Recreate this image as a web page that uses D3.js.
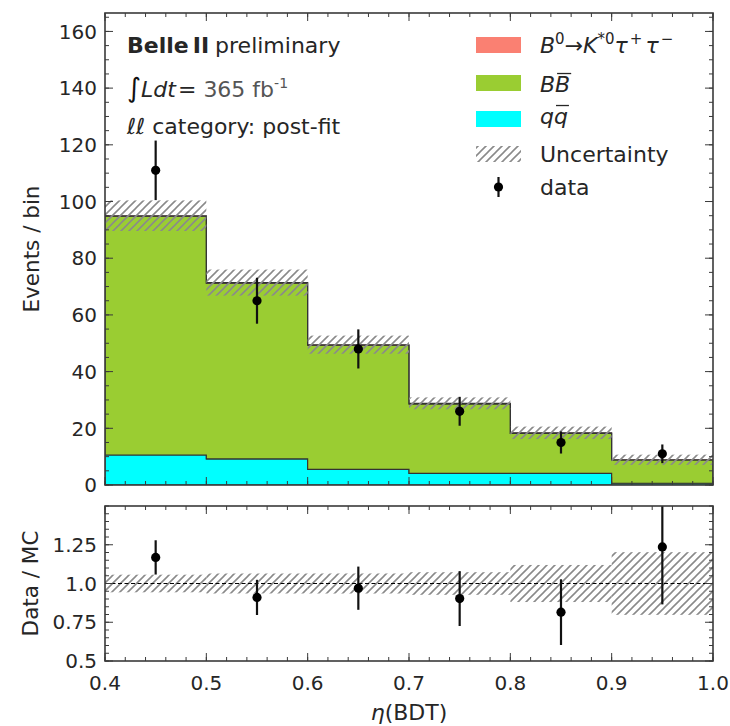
<!DOCTYPE html>
<html>
<head>
<meta charset="utf-8">
<script src="https://cdn.jsdelivr.net/npm/d3@7"></script>
<style>
  body { margin: 0; background: #fff; }
  text { font-family: "DejaVu Sans", sans-serif; white-space: pre; }
</style>
</head>
<body>
<svg id="chart" width="730" height="726"></svg>
<script>
// ---- data ----
const binEdges = [0.4, 0.5, 0.6, 0.7, 0.8, 0.9, 1.0];
const qqbarYield = [10.6, 9.2, 5.5, 4.1, 4.1, 0.6];
const bbbarYield = [84.2, 62.0, 43.8, 24.5, 14.1, 8.2];
const signalYield = [0.2, 0.2, 0.2, 0.2, 0.2, 0.1];
const mcUncertainty = [5.4, 4.6, 3.2, 2.1, 2.2, 1.8];
const dataCounts = [111, 65, 48, 26, 15, 11];
const dataErrors = [10.5, 8.1, 6.9, 5.1, 3.9, 3.3];

// ---- tick labels ----
const xMajorTicks = [0.4, 0.5, 0.6, 0.7, 0.8, 0.9, 1.0];
const xTickLabels = ["0.4", "0.5", "0.6", "0.7", "0.8", "0.9", "1.0"];
const yMainTicks = [0, 20, 40, 60, 80, 100, 120, 140, 160];
const yMainTickLabels = ["0", "20", "40", "60", "80", "100", "120", "140", "160"];
const yRatioTicks = [0.5, 0.75, 1.0, 1.25];
const yRatioTickLabels = ["0.5", "0.75", "1.0", "1.25"];

const colors = { signal: "#fa8072", bbbar: "#9acd32", qqbar: "#00ffff" };
const ink = "#262626";
const frameColor = "#3a3a3a";

const svg = d3.select("#chart");

const left = 105, right = 713;
const mainTop = 13, mainBottom = 485;
const ratioTop = 506, ratioBottom = 661;

const x = d3.scaleLinear().domain([0.4, 1.0]).range([left, right]);
const y = d3.scaleLinear().domain([0, 166.5]).range([mainBottom, mainTop]);
const yR = d3.scaleLinear().domain([0.5, 1.5]).range([ratioBottom, ratioTop]);

// hatch pattern for the MC uncertainty
const defs = svg.append("defs");
const pat = defs.append("pattern").attr("id", "hatch")
  .attr("patternUnits", "userSpaceOnUse").attr("width", 8).attr("height", 8);
pat.append("path").attr("d", "M-2,2 L2,-2 M0,8 L8,0 M6,10 L10,6")
  .attr("stroke", "#8a8a8a").attr("stroke-width", 1.6).attr("fill", "none");

defs.append("clipPath").attr("id", "clipMain").append("rect")
  .attr("x", left).attr("y", mainTop).attr("width", right - left).attr("height", mainBottom - mainTop);
defs.append("clipPath").attr("id", "clipRatio").append("rect")
  .attr("x", left).attr("y", ratioTop).attr("width", right - left).attr("height", ratioBottom - ratioTop);

// ---- stacked histogram ----
const nBins = dataCounts.length;
const bins = d3.range(nBins).map(i => ({
  x0: binEdges[i], x1: binEdges[i + 1],
  qq: qqbarYield[i], bb: bbbarYield[i], sig: signalYield[i],
  unc: mcUncertainty[i], data: dataCounts[i], err: dataErrors[i]
}));
bins.forEach(b => { b.total = b.qq + b.bb + b.sig; });

const layers = [
  { key: "qq", color: colors.qqbar, lo: b => 0, hi: b => b.qq },
  { key: "bb", color: colors.bbbar, lo: b => b.qq, hi: b => b.qq + b.bb },
  { key: "sig", color: colors.signal, lo: b => b.qq + b.bb, hi: b => b.total }
];

function stepPoints(acc) {
  const pts = bins.map(b => ({ x: b.x0, lo: acc.lo(b), hi: acc.hi(b) }));
  const last = bins[nBins - 1];
  pts.push({ x: last.x1, lo: acc.lo(last), hi: acc.hi(last) });
  return pts;
}

const mainG = svg.append("g").attr("clip-path", "url(#clipMain)");
const area = d3.area().curve(d3.curveStepAfter)
  .x(d => x(d.x)).y0(d => y(d.lo)).y1(d => y(d.hi));
layers.forEach(l => {
  mainG.append("path").datum(stepPoints(l))
    .attr("d", area).attr("fill", l.color)
    .attr("stroke", "#333").attr("stroke-width", 1.1).attr("stroke-linejoin", "miter");
});

// uncertainty band on the total
mainG.selectAll("rect.unc").data(bins).join("rect").attr("class", "unc")
  .attr("x", d => x(d.x0)).attr("width", d => x(d.x1) - x(d.x0))
  .attr("y", d => y(d.total + d.unc)).attr("height", d => y(d.total - d.unc) - y(d.total + d.unc))
  .attr("fill", "url(#hatch)");

// data points
const dataG = mainG.append("g");
dataG.selectAll("line").data(bins).join("line")
  .attr("x1", d => x((d.x0 + d.x1) / 2)).attr("x2", d => x((d.x0 + d.x1) / 2))
  .attr("y1", d => y(d.data - d.err)).attr("y2", d => y(d.data + d.err))
  .attr("stroke", "#111").attr("stroke-width", 2.2);
dataG.selectAll("circle").data(bins).join("circle")
  .attr("cx", d => x((d.x0 + d.x1) / 2)).attr("cy", d => y(d.data)).attr("r", 4.6).attr("fill", "#000");

// ---- ratio panel ----
const ratioG = svg.append("g").attr("clip-path", "url(#clipRatio)");
ratioG.selectAll("rect.runc").data(bins).join("rect").attr("class", "runc")
  .attr("x", d => x(d.x0)).attr("width", d => x(d.x1) - x(d.x0))
  .attr("y", d => yR(1 + d.unc / d.total)).attr("height", d => yR(1 - d.unc / d.total) - yR(1 + d.unc / d.total))
  .attr("fill", "url(#hatch)");
ratioG.append("line").attr("x1", left).attr("x2", right).attr("y1", yR(1)).attr("y2", yR(1))
  .attr("stroke", "#000").attr("stroke-width", 1).attr("stroke-dasharray", "4,2.5");
ratioG.selectAll("line.rerr").data(bins).join("line").attr("class", "rerr")
  .attr("x1", d => x((d.x0 + d.x1) / 2)).attr("x2", d => x((d.x0 + d.x1) / 2))
  .attr("y1", d => yR((d.data - d.err) / d.total)).attr("y2", d => yR((d.data + d.err) / d.total))
  .attr("stroke", "#111").attr("stroke-width", 2.2);
ratioG.selectAll("circle").data(bins).join("circle")
  .attr("cx", d => x((d.x0 + d.x1) / 2)).attr("cy", d => yR(d.data / d.total)).attr("r", 4.6).attr("fill", "#000");

// ---- frames and ticks ----
function ticks(g, vals, pos, orient, len) {
  g.selectAll(null).data(vals).join("line")
    .attr("x1", d => orient === "h" ? pos.at : pos.s(d))
    .attr("x2", d => orient === "h" ? pos.at + len : pos.s(d))
    .attr("y1", d => orient === "v" ? pos.at : pos.s(d))
    .attr("y2", d => orient === "v" ? pos.at + len : pos.s(d))
    .attr("stroke", frameColor).attr("stroke-width", 1);
}
function panel(ys, top, bottom, majorY, minorY) {
  const g = svg.append("g");
  const xMinor = x.ticks(30);
  ticks(g, xMinor, { s: x, at: bottom }, "v", -4);
  ticks(g, xMajorTicks, { s: x, at: bottom }, "v", -8);
  ticks(g, xMinor, { s: x, at: top }, "v", 4);
  ticks(g, xMajorTicks, { s: x, at: top }, "v", 8);
  ticks(g, minorY, { s: ys, at: left }, "h", 4);
  ticks(g, majorY, { s: ys, at: left }, "h", 8);
  ticks(g, minorY, { s: ys, at: right }, "h", -4);
  ticks(g, majorY, { s: ys, at: right }, "h", -8);
  g.append("rect").attr("x", left).attr("y", top).attr("width", right - left).attr("height", bottom - top)
    .attr("fill", "none").attr("stroke", frameColor).attr("stroke-width", 1.6);
}
panel(y, mainTop, mainBottom, yMainTicks, y.ticks(34).filter(v => v <= 166.5));
panel(yR, ratioTop, ratioBottom, yRatioTicks, yR.ticks(20));

// tick labels
svg.append("g").selectAll("text").data(yMainTicks).join("text")
  .attr("x", left - 8).attr("y", d => y(d)).attr("dy", "0.36em")
  .attr("text-anchor", "end").attr("font-size", 20).attr("fill", ink)
  .text((d, i) => yMainTickLabels[i]);
svg.append("g").selectAll("text").data(yRatioTicks).join("text")
  .attr("x", left - 8).attr("y", d => yR(d)).attr("dy", "0.36em")
  .attr("text-anchor", "end").attr("font-size", 20).attr("fill", ink)
  .text((d, i) => yRatioTickLabels[i]);
svg.append("g").selectAll("text").data(xMajorTicks).join("text")
  .attr("x", d => x(d)).attr("y", ratioBottom + 29)
  .attr("text-anchor", "middle").attr("font-size", 20).attr("fill", ink)
  .text((d, i) => xTickLabels[i]);

// axis titles
svg.append("text").attr("transform", `translate(31,${(mainTop + mainBottom) / 2}) rotate(-90)`)
  .attr("text-anchor", "middle").attr("dy", "0.36em").attr("font-size", 21.5).attr("fill", ink)
  .text("Events / bin");
svg.append("text").attr("transform", `translate(30,${(ratioTop + ratioBottom) / 2}) rotate(-90)`)
  .attr("text-anchor", "middle").attr("dy", "0.36em").attr("font-size", 21.5).attr("fill", ink)
  .text("Data / MC");
const xt = svg.append("text").attr("x", (left + right) / 2).attr("y", 720)
  .attr("text-anchor", "middle").attr("font-size", 22).attr("fill", ink);
xt.append("tspan").attr("font-style", "italic").text("η");
xt.append("tspan").text("(BDT)");

// ---- rich text helper: runs of text placed one after another ----
function rich(x0, baseline, parts) {
  let cx = x0;
  parts.forEach(p => {
    if (p.gap) { cx += p.gap; return; }
    const t = svg.append("text").attr("x", cx).attr("y", baseline - (p.raise || 0))
      .attr("font-size", p.size || 22).attr("fill", p.fill || ink)
      .attr("font-style", p.italic ? "italic" : "normal")
      .attr("font-weight", p.bold ? "bold" : "normal")
      .text(p.t);
    const w = t.node().getComputedTextLength();
    if (p.overline) {
      svg.append("line").attr("x1", cx + 2).attr("x2", cx + w + 1)
        .attr("y1", baseline - (p.size || 22) * 0.84).attr("y2", baseline - (p.size || 22) * 0.84)
        .attr("stroke", ink).attr("stroke-width", 1.3);
    }
    cx += w;
  });
  return cx;
}

// experiment annotation
rich(127, 53, [{ t: "Belle", bold: true }, { gap: 4 }, { t: "II", bold: true }, { gap: 6 }, { t: "preliminary" }]);
rich(127, 97, [{ t: "∫", size: 27, fill: "#111" }, { t: "Ldt", italic: true }, { gap: 2 }, { t: "=" },
  { gap: 7 }, { t: "365 fb", fill: "#555" }, { t: "-1", size: 14, raise: 9, fill: "#555" }]);
rich(127, 134, [{ t: "ℓℓ", italic: true }, { gap: 7 }, { t: "category: post-fit" }]);

// ---- legend ----
const legX = 476, legW = 45, legH = 16, legText = 540;
const legendRows = [
  { kind: "patch", color: colors.signal, cy: 45 },
  { kind: "patch", color: colors.bbbar, cy: 83 },
  { kind: "patch", color: colors.qqbar, cy: 119 },
  { kind: "hatch", cy: 154 },
  { kind: "data", cy: 187 }
];
legendRows.forEach(r => {
  if (r.kind === "patch") {
    svg.append("rect").attr("x", legX).attr("y", r.cy - legH / 2).attr("width", legW).attr("height", legH).attr("fill", r.color);
  } else if (r.kind === "hatch") {
    svg.append("rect").attr("x", legX).attr("y", r.cy - legH / 2).attr("width", legW).attr("height", legH).attr("fill", "url(#hatch)");
  } else {
    svg.append("line").attr("x1", legX + legW / 2).attr("x2", legX + legW / 2)
      .attr("y1", r.cy - 10).attr("y2", r.cy + 10).attr("stroke", "#111").attr("stroke-width", 2.2);
    svg.append("circle").attr("cx", legX + legW / 2).attr("cy", r.cy).attr("r", 4.6).attr("fill", "#000");
  }
});
rich(legText, 53, [{ t: "B", italic: true }, { t: "0", size: 15, raise: 9 }, { t: "→" }, { t: "K", italic: true },
  { t: "*0", size: 15, raise: 9 }, { t: "τ", italic: true }, { gap: 2 }, { t: "+", size: 15, raise: 9 }, { gap: 3 },
  { t: "τ", italic: true }, { gap: 2 }, { t: "−", size: 15, raise: 9 }]);
rich(legText, 92, [{ t: "B", italic: true }, { t: "B", italic: true, overline: true }]);
rich(legText, 124, [{ t: "q", italic: true }, { t: "q", italic: true, overline: true }]);
rich(legText, 162, [{ t: "Uncertainty" }]);
rich(legText, 195, [{ t: "data" }]);
</script>
</body>
</html>
